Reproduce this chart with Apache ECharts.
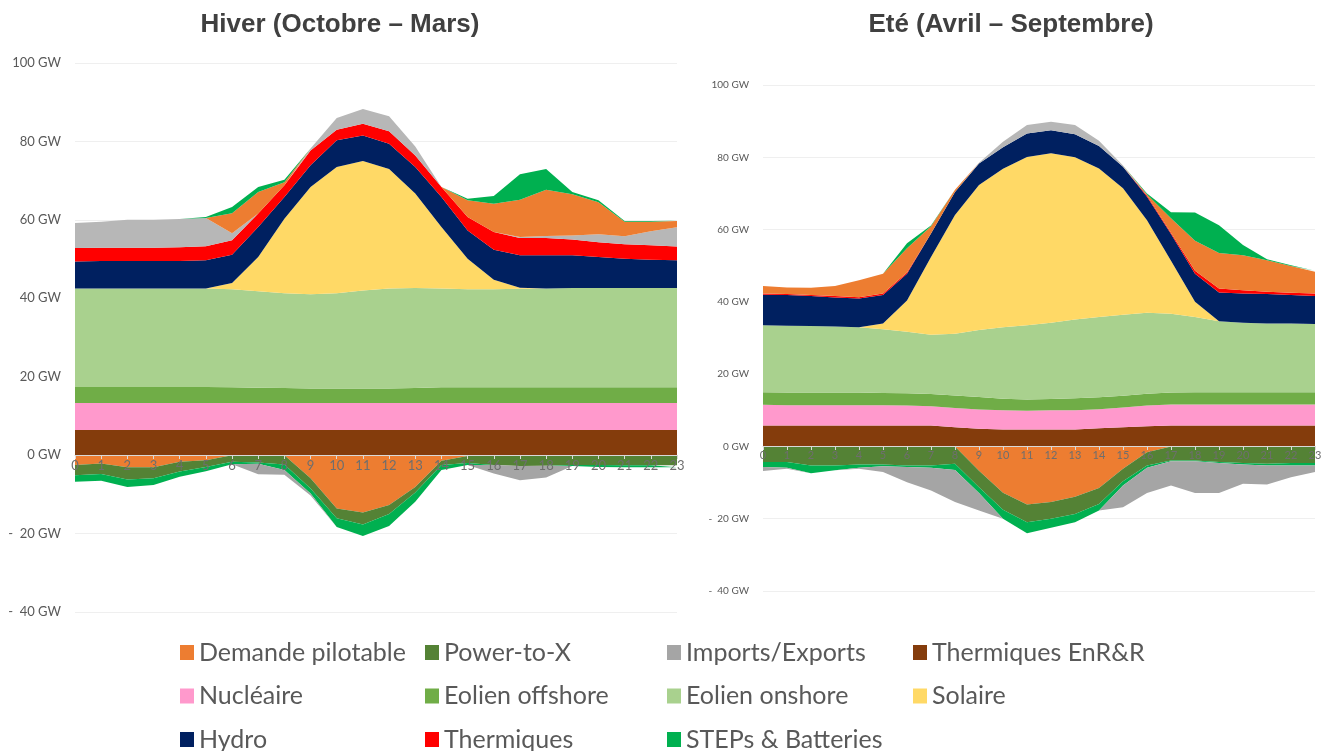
<!DOCTYPE html>
<html>
<head>
<meta charset="utf-8">
<script src="https://cdn.jsdelivr.net/npm/echarts@6/dist/echarts.min.js"></script>
<style>
html,body{margin:0;padding:0;background:#fff;}
#chart{width:1330px;height:751px;}
</style>
</head>
<body>
<div id="chart"></div>
<script>
const hours = ['0','1','2','3','4','5','6','7','8','9','10','11','12','13','14','15','16','17','18','19','20','21','22','23'];
const titleWinter = 'Hiver (Octobre – Mars)';
const titleSummer = 'Eté (Avril – Septembre)';

// ---- Winter (Hiver) ----
const wThermEnr   = [6.4,6.4,6.4,6.4,6.4,6.4,6.4,6.4,6.4,6.4,6.4,6.4,6.4,6.4,6.4,6.4,6.4,6.4,6.4,6.4,6.4,6.4,6.4,6.4];
const wNucleaire  = [6.9,6.9,6.9,6.9,6.9,6.9,6.9,6.9,6.9,6.9,6.9,6.9,6.9,6.9,6.9,6.9,6.9,6.9,6.9,6.9,6.9,6.9,6.9,6.9];
const wOffshore   = [4.1,4.1,4.1,4.1,4.1,4.1,4.0,3.9,3.8,3.7,3.7,3.7,3.7,3.8,4.0,4.0,4.0,4.0,4.0,4.0,4.0,4.0,4.0,4.0];
const wOnshore    = [25.1,25.1,25.1,25.1,25.1,25.1,25.0,24.6,24.2,24.0,24.3,25.0,25.5,25.5,25.2,25.0,25.0,25.1,25.2,25.3,25.3,25.3,25.3,25.3];
const wSolaire    = [0,0,0,0,0,0,1.6,8.7,19.0,27.4,32.2,33.0,30.5,24.1,15.7,7.8,2.4,0.3,0,0,0,0,0,0];
const wHydro      = [6.9,7.0,7.0,7.0,7.0,7.2,7.2,7.7,5.5,5.5,6.8,6.5,6.4,6.8,7.6,7.2,7.7,8.3,8.5,8.4,7.9,7.5,7.2,7.1];
const wThermiques = [3.4,3.4,3.4,3.4,3.5,3.6,3.7,3.4,3.0,3.8,2.7,3.0,3.2,2.9,2.6,3.4,4.5,4.4,4.4,4.0,3.8,3.7,3.7,3.5];
const wImports    = [6.4,6.6,7.1,7.1,7.2,7.2,1.8,0,0,0.5,3.0,3.8,3.8,2.3,0,0,0,0.2,0.5,1.0,2.0,2.0,3.6,4.9];
const wDemande    = [0,0,0,0,0,0,5.1,5.5,0.8,0,0,0,0,0,0,4.3,7.2,9.5,11.8,10.5,8.2,3.7,2.4,1.6];
const wSteps      = [0,0,0,0,0,0.2,1.6,1.3,0.6,0,0,0,0,0,0,0.4,2.0,6.5,5.3,0.6,0.5,0.2,0.2,0.1];
const wDemandeNeg = [-2.5,-2.1,-3.1,-3.1,-1.7,-1.3,0,0,0,-5.9,-13.6,-14.6,-12.7,-8.1,-1.4,-0.2,0,0,0,0,0,0,0,0];
const wP2X        = [-2.6,-2.7,-3.1,-2.8,-2.5,-1.7,-1.7,-1.9,-2.4,-2.6,-2.5,-3.1,-2.3,-1.4,-1.1,-1.8,-2.5,-2.8,-2.7,-2.5,-2.5,-2.6,-2.6,-2.6];
const wStepsNeg   = [-1.7,-1.7,-1.9,-1.7,-1.3,-1.1,-0.6,-0.3,-1.4,-1.3,-2.2,-2.9,-3.1,-2.4,-1.3,-0.5,0,0,0,-0.3,-0.5,-0.5,-0.5,-0.5];
const wImportsNeg = [0,0,0,0,0,0,0,-2.7,-1.2,-0.5,0,0,0,0,0,0,-2.2,-3.6,-3.0,0,0,0,0,0];

// ---- Summer (Eté) ----
const sThermEnr   = [5.8,5.8,5.8,5.8,5.8,5.8,5.8,5.8,5.3,4.9,4.7,4.7,4.7,4.7,5.0,5.3,5.6,5.8,5.8,5.8,5.8,5.8,5.8,5.8];
const sNucleaire  = [5.7,5.6,5.6,5.6,5.6,5.6,5.5,5.3,5.3,5.3,5.3,5.2,5.3,5.3,5.3,5.5,5.7,5.8,5.8,5.8,5.8,5.8,5.8,5.8];
const sOffshore   = [3.5,3.5,3.5,3.5,3.5,3.4,3.4,3.4,3.5,3.5,3.2,3.1,3.1,3.3,3.3,3.2,3.3,3.3,3.4,3.4,3.4,3.4,3.4,3.4];
const sOnshore    = [18.5,18.5,18.4,18.3,18.1,17.6,17.0,16.4,17.1,18.5,19.8,20.5,21.1,21.8,22.2,22.4,22.4,21.8,20.8,19.6,19.2,19.0,19.0,18.9];
const sSolaire    = [0,0,0,0,0,1.6,8.7,21.5,32.8,40.1,43.8,46.6,46.9,44.9,41.1,35.0,25.6,14.7,4.2,0,0,0,0,0];
const sHydro      = [8.5,8.5,8.3,8.0,7.9,7.9,7.4,6.5,6.4,6.0,6.0,6.5,6.4,6.4,6.2,6.0,6.5,7.4,7.8,8.0,8.1,8.2,7.9,7.7];
const sThermiques = [0.3,0.3,0.3,0.4,0.4,0.4,0.3,0,0,0,0,0,0,0,0,0,0.3,0.3,0.8,1.1,0.9,0.6,0.6,0.7];
const sImports    = [0,0,0,0,0,0,0,0,0,0.2,1.5,2.3,2.3,2.5,1.5,0.3,0,0,0,0,0,0,0,0];
const sDemande    = [2.1,1.8,2.0,2.8,4.7,5.5,6.7,2.0,0.6,0,0,0,0,0,0,0,0.3,4.0,8.3,9.8,9.7,8.7,7.4,6.0];
const sSteps      = [0,0,0,0,0,0,1.4,0.2,0,0,0,0,0,0,0,0,0.3,1.7,7.8,7.7,2.8,0.3,0.2,0.3];
const sDemandeNeg = [0,0,0,0,0,0,0,0,0,-6.7,-12.8,-16.1,-15.4,-13.9,-11.5,-6.2,-1.6,0,0,0,0,0,0,0];
const sP2X        = [-4.3,-4.3,-5.3,-5.3,-5.0,-5.0,-5.3,-5.3,-4.8,-4.6,-4.7,-4.9,-4.6,-4.8,-4.4,-3.4,-3.7,-3.9,-3.9,-4.3,-4.6,-4.8,-4.6,-4.6];
const sStepsNeg   = [-1.4,-1.6,-2.1,-1.3,-0.9,-0.5,-0.4,-0.6,-1.7,-1.6,-2.5,-3.0,-2.5,-2.3,-1.8,-1.2,-0.6,-0.2,-0.2,-0.3,-0.4,-0.5,-0.7,-0.7];
const sImportsNeg = [-1.1,-0.3,0,0,-0.3,-1.6,-4.2,-6.3,-8.9,-4.8,0,0,0,0,0,-6.0,-7.0,-6.7,-8.8,-8.3,-5.3,-5.2,-3.2,-1.8];

const colors = {
  'Demande pilotable': '#ED7D31',
  'Power-to-X': '#548235',
  'Imports/Exports': '#A5A5A5',
  'Thermiques EnR&R': '#843C0C',
  'Nucléaire': '#FF99CC',
  'Eolien offshore': '#70AD47',
  'Eolien onshore': '#A9D18E',
  'Solaire': '#FFD966',
  'Hydro': '#002060',
  'Thermiques': '#FF0000',
  'STEPs & Batteries': '#00B050'
};

function area(name, data, idx, stack, colorOverride) {
  const c = colorOverride || colors[name];
  return {
    name: name, type: 'line', data: data,
    xAxisIndex: idx, yAxisIndex: idx,
    stack: stack + idx,
    symbol: 'none', showSymbol: false,
    lineStyle: { width: 0, color: c },
    itemStyle: { color: colors[name] },
    areaStyle: { color: c, opacity: 1 },
    z: 2
  };
}

function buildSeries(idx, d) {
  return [
    area('Thermiques EnR&R', d.thermEnr, idx, 'pos'),
    area('Nucléaire', d.nucleaire, idx, 'pos'),
    area('Eolien offshore', d.offshore, idx, 'pos'),
    area('Eolien onshore', d.onshore, idx, 'pos'),
    area('Solaire', d.solaire, idx, 'pos'),
    area('Hydro', d.hydro, idx, 'pos'),
    area('Thermiques', d.thermiques, idx, 'pos'),
    area('Imports/Exports', d.imports, idx, 'pos', '#B7B7B7'),
    area('Demande pilotable', d.demande, idx, 'pos'),
    area('STEPs & Batteries', d.steps, idx, 'pos'),
    area('Demande pilotable', d.demandeNeg, idx, 'neg'),
    area('Power-to-X', d.p2x, idx, 'neg'),
    area('STEPs & Batteries', d.stepsNeg, idx, 'neg'),
    area('Imports/Exports', d.importsNeg, idx, 'neg')
  ];
}

function yLabel(v) {
  return v < 0 ? '-  ' + Math.abs(v) + ' GW' : v + ' GW';
}

const gridStyle = { color: '#EFEFEF', width: 1 };

// offset moves the category axis from the grid bottom up to the 0 GW line
function xAxisFor(idx, fs, off) {
  return {
    type: 'category', gridIndex: idx, data: hours, boundaryGap: false,
    z: 5, offset: off,
    axisLine: { onZero: false, lineStyle: { color: '#D9D9D9', width: 1 } },
    axisTick: { show: true, length: 4, lineStyle: { color: '#D9D9D9' } },
    axisLabel: { color: '#6E6E6E', fontSize: fs, fontFamily: 'Lato', margin: 4, interval: 0 },
    splitLine: { show: false }
  };
}
function yAxisFor(idx, fs) {
  return {
    type: 'value', gridIndex: idx, min: -40, max: 100, interval: 20,
    axisLine: { show: false }, axisTick: { show: false },
    axisLabel: { color: '#595959', fontSize: fs, fontFamily: 'Lato', formatter: yLabel, margin: 14 },
    splitLine: { lineStyle: gridStyle }
  };
}

const legendText = { fontFamily: 'Lato', fontSize: 25, color: '#595959', lineHeight: 24 };
function legendCol(left, names) {
  return {
    orient: 'vertical', left: left, top: 640, height: 130, padding: 0, itemGap: 18.5,
    icon: 'rect', itemWidth: 14, itemHeight: 15,
    textStyle: legendText, data: names, selectedMode: true
  };
}

const chart = echarts.init(document.getElementById('chart'), null, { renderer: 'canvas' });
chart.setOption({
  animation: false,
  backgroundColor: '#fff',
  graphic: [
    { type: 'text', x: 340, y: 25, style: { text: titleWinter, align: 'center', verticalAlign: 'middle', font: 'bold 26px "Liberation Sans", Arial', fill: '#404040' } },
    { type: 'text', x: 1011, y: 25, style: { text: titleSummer, align: 'center', verticalAlign: 'middle', font: 'bold 26px "Liberation Sans", Arial', fill: '#404040' } }
  ],
  grid: [
    { left: 75, top: 63, width: 602, height: 549 },
    { left: 763, top: 85, width: 552, height: 506 }
  ],
  xAxis: [xAxisFor(0, 13, -157), xAxisFor(1, 11, -145)],
  yAxis: [yAxisFor(0, 13), yAxisFor(1, 10)],
  legend: [
    legendCol(180, ['Demande pilotable', 'Nucléaire', 'Hydro']),
    legendCol(425, ['Power-to-X', 'Eolien offshore', 'Thermiques']),
    legendCol(667, ['Imports/Exports', 'Eolien onshore', 'STEPs & Batteries']),
    legendCol(913, ['Thermiques EnR&R', 'Solaire'])
  ],
  series: [].concat(
    buildSeries(0, { thermEnr: wThermEnr, nucleaire: wNucleaire, offshore: wOffshore, onshore: wOnshore, solaire: wSolaire, hydro: wHydro, thermiques: wThermiques, imports: wImports, demande: wDemande, steps: wSteps, demandeNeg: wDemandeNeg, p2x: wP2X, stepsNeg: wStepsNeg, importsNeg: wImportsNeg }),
    buildSeries(1, { thermEnr: sThermEnr, nucleaire: sNucleaire, offshore: sOffshore, onshore: sOnshore, solaire: sSolaire, hydro: sHydro, thermiques: sThermiques, imports: sImports, demande: sDemande, steps: sSteps, demandeNeg: sDemandeNeg, p2x: sP2X, stepsNeg: sStepsNeg, importsNeg: sImportsNeg })
  )
});
</script>
</body>
</html>
